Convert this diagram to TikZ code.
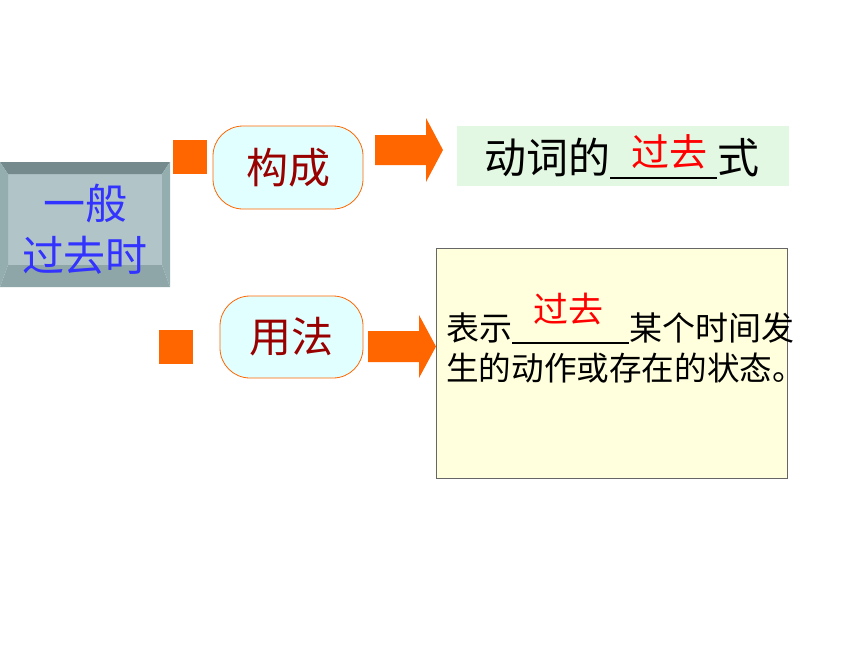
\documentclass[tikz,border=0pt]{standalone}
\usepackage{fontspec}
\setmainfont{Noto Sans CJK SC}
\definecolor{bevtop}{HTML}{748A8C}
\definecolor{bevside}{HTML}{94AEB0}
\definecolor{bevbot}{HTML}{8EA6A8}
\definecolor{bevface}{HTML}{B1C4C7}
\definecolor{mainblue}{HTML}{3333FF}
\definecolor{bullet}{HTML}{FF6600}
\definecolor{pillfill}{HTML}{E2FFFF}
\definecolor{pilltext}{HTML}{990000}
\definecolor{formfill}{HTML}{E3F8E3}
\definecolor{usefill}{HTML}{FFFFDD}
\definecolor{ansred}{HTML}{FF0000}
\tikzset{
  pill/.style={draw=bullet, line width=0.8pt, fill=pillfill, rounded corners=30pt,
    text=pilltext, font=\fontsize{42}{46}\selectfont, inner sep=0pt},
  bulletsq/.style={fill=bullet, draw=none, minimum width=34pt, minimum height=34pt, inner sep=0pt},
  blockarrow/.style={fill=bullet, draw=none},
}
\begin{document}
\begin{tikzpicture}[x=1pt,y=-1pt]
\useasboundingbox (0,0) rectangle (860,645);
% bevelled main box
\fill[bevface] (8,174) rectangle (162,265);
\fill[bevtop] (0,162) -- (170,162) -- (162,174) -- (8,174) -- cycle;
\fill[bevside] (0,162) -- (8,174) -- (8,265) -- (0,287) -- cycle;
\fill[bevside] (170,162) -- (162,174) -- (162,265) -- (170,287) -- cycle;
\fill[bevbot] (0,287) -- (8,265) -- (162,265) -- (170,287) -- cycle;
\node[text=mainblue, font=\fontsize{42}{52}\selectfont, align=center, inner sep=0pt] (main) at (85,229) {一般\\过去时};
% bullets
\node[bulletsq] (b1) at (190,156.5) {};
\node[bulletsq] (b2) at (176,346.5) {};
% pills
\node[pill, minimum width=150pt, minimum height=83pt] (gc) at (288,167.5) {构成};
\node[pill, minimum width=143pt, minimum height=82pt] (yf) at (291.5,337) {用法};
% block arrows
\fill[blockarrow] (375,135) -- (426,135) -- (426,118) -- (443,150) -- (426,182) -- (426,165) -- (375,165) -- cycle;
\fill[blockarrow] (368,331) -- (419,331) -- (419,315) -- (436,346.5) -- (419,378) -- (419,362) -- (368,362) -- cycle;
% form box
\node[fill=formfill, minimum width=332pt, minimum height=60pt, inner sep=0pt] (form) at (623,156) {};
\node[anchor=base west, inner sep=0pt, font=\fontsize{42}{46}\selectfont] (formtext) at (484,173)
  {动词的\rule[-6pt]{107pt}{2pt}式};
\node[text=ansred, font=\fontsize{38}{42}\selectfont, inner sep=0pt] (ans1) at (669,152) {过去};
% use box
\node[draw=black!60, line width=0.8pt, fill=usefill, minimum width=351pt, minimum height=230pt, inner sep=0pt] (use) at (611.5,363) {};
\node[anchor=base west, inner sep=0pt, font=\fontsize{33}{36}\selectfont] (use1) at (446,340)
  {表示\rule[-4pt]{117pt}{2pt}某个时间发};
\node[anchor=base west, inner sep=0pt, font=\fontsize{32.6}{36}\selectfont] (use2) at (446,380)
  {生的动作或存在的状态。};
\node[text=ansred, font=\fontsize{35}{38}\selectfont, inner sep=0pt] (ans2) at (568,309) {过去};
\end{tikzpicture}
\end{document}
